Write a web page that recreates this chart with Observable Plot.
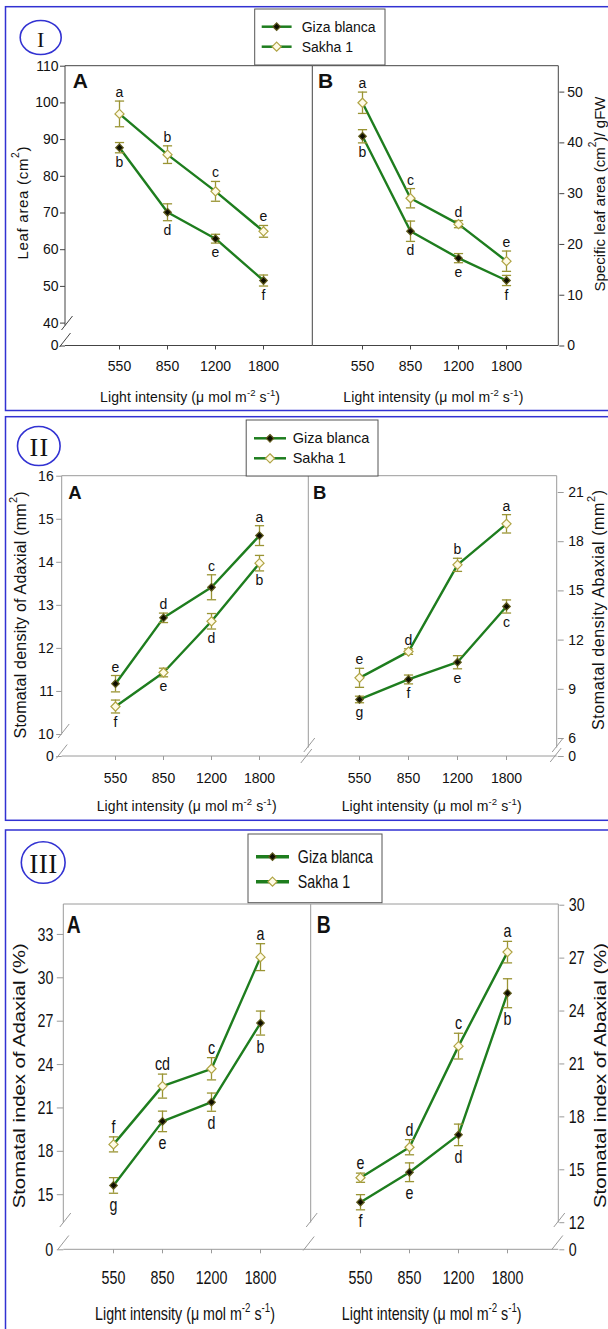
<!DOCTYPE html>
<html>
<head>
<meta charset="utf-8">
<script src="https://cdn.jsdelivr.net/npm/d3@7"></script>
<script src="https://cdn.jsdelivr.net/npm/@observablehq/plot@0.6"></script>
<style>
  html, body { margin: 0; padding: 0; background: #fff; }
  #wrap { position: relative; width: 608px; height: 1329px; overflow: hidden; background: #fff; }
  #wrap > svg { position: absolute; left: 0; top: 0; }
</style>
</head>
<body>
<div id="wrap"></div>
<script>
// ---------------- data ----------------
const lightLevels = ["550", "850", "1200", "1800"];
const cultivars = ["Giza blanca", "Sakha 1"];

// I-A  Leaf area (cm2)
const leafAreaGiza = [87.8, 70.2, 63.0, 51.6];
const leafAreaGizaSE = [1.4, 2.3, 1.2, 1.5];
const leafAreaGizaLetters = ["b", "d", "e", "f"];
const leafAreaSakha = [97.0, 85.9, 75.9, 65.0];
const leafAreaSakhaSE = [3.5, 2.4, 2.7, 1.6];
const leafAreaSakhaLetters = ["a", "b", "c", "e"];
const leafAreaTicks = [0, 40, 50, 60, 70, 80, 90, 100, 110];

// I-B  Specific leaf area (cm2)/gFW
const slaGiza = [41.3, 22.6, 17.3, 12.9];
const slaGizaSE = [1.3, 2.0, 0.9, 1.0];
const slaGizaLetters = ["b", "d", "e", "f"];
const slaSakha = [47.9, 29.1, 24.0, 16.7];
const slaSakhaSE = [2.1, 1.9, 0.7, 2.0];
const slaSakhaLetters = ["a", "c", "d", "e"];
const slaTicks = [0, 10, 20, 30, 40, 50];

// II-A  Stomatal density of adaxial (mm2)
const sdAdGiza = [11.18, 12.71, 13.42, 14.62];
const sdAdGizaSE = [0.19, 0.11, 0.29, 0.23];
const sdAdGizaLetters = ["e", "d", "c", "a"];
const sdAdSakha = [10.65, 11.44, 12.63, 13.98];
const sdAdSakhaSE = [0.15, 0.10, 0.18, 0.18];
const sdAdSakhaLetters = ["f", "e", "d", "b"];
const sdAdTicks = [0, 10, 11, 12, 13, 14, 15, 16];

// II-B  Stomatal density abaxial (mm2)
const sdAbGiza = [8.38, 9.60, 10.65, 14.05];
const sdAbGizaSE = [0.20, 0.27, 0.40, 0.40];
const sdAbGizaLetters = ["g", "f", "e", "c"];
const sdAbSakha = [9.70, 11.30, 16.59, 19.09];
const sdAbSakhaSE = [0.58, 0.17, 0.40, 0.56];
const sdAbSakhaLetters = ["e", "d", "b", "a"];
const sdAbTicks = [0, 6, 9, 12, 15, 18, 21];

// III-A  Stomatal index of adaxial (%)
const siAdGiza = [15.64, 20.07, 21.40, 26.87];
const siAdGizaSE = [0.54, 0.71, 0.63, 0.83];
const siAdGizaLetters = ["g", "e", "d", "b"];
const siAdSakha = [18.48, 22.51, 23.71, 31.43];
const siAdSakhaSE = [0.52, 0.83, 0.77, 0.93];
const siAdSakhaLetters = ["f", "cd", "c", "a"];
const siAdTicks = [0, 15, 18, 21, 24, 27, 30, 33];

// III-B  Stomatal index of abaxial (%)
const siAbGiza = [13.16, 14.86, 16.98, 25.01];
const siAbGizaSE = [0.43, 0.53, 0.61, 0.82];
const siAbGizaLetters = ["f", "e", "d", "b"];
const siAbSakha = [14.55, 16.28, 22.01, 27.34];
const siAbSakhaSE = [0.26, 0.43, 0.73, 0.61];
const siAbSakhaLetters = ["e", "d", "c", "a"];
const siAbTicks = [0, 12, 15, 18, 21, 24, 27, 30];

const panelNumerals = ["I", "II", "III"];
const subplotTags = ["A", "B"];
const xTitle = "Light intensity (\u03bc mol m^-2 s^-1)";
const yTitles = [
  ["Leaf area (cm^2)", "Specific leaf area (cm^2)/ gFW"],
  ["Stomatal density of Adaxial (mm^2)", "Stomatal density Abaxial (mm^2)"],
  ["Stomatal index of Adaxial (%)", "Stomatal index of Abaxial (%)"]
];

// ---------------- layout & style ----------------
const W = 608, H = 1329;
const SANS = "'Liberation Sans', Arial, Helvetica, sans-serif";
const SERIF = "'Liberation Serif', 'Times New Roman', serif";
const GREEN = "#1e7d1e", ERR = "#9a9433";
const GIZA_FILL = "#0e0e00", GIZA_STROKE = "#5f5a1c";
const SAKHA_FILL = "#fffbe6", SAKHA_STROKE = "#b0a444";
const BLUE = "#3232d2";

const panels = [
  {
    border: [6.7, 410.5], frame: "#444", font: 14, sx: 1, xTickPad: 11.5,
    badge: {cx: 40.7, cy: 37.5, rx: 20.5, ry: 17, size: 22, spacing: 0},
    legend: {x0: 254.7, x1: 385, y0: 9, y1: 65, rows: [26.7, 46.7], lx0: 261.7, lx1: 291.6, tx: 301.7, lw: 2.5, size: 14},
    xT: {y: 402, len: 180, size: 14, cx: [190, 433.3]},
    yT: [{x: 21.7, y: 203, len: 113, size: 15}, {x: 598.5, y: 194, len: 195, size: 15}],
    tag: [{x: 72.7, y: 88.3}, {x: 318, y: 88}], tagSize: 21, tagSx: 1,
    subs: [
      {L: 65, R: 312.3, T: 65.7, B: 345.5, anchor: "left", yDomain: [0, 40, 110], yRange: [345.5, 322.6, 65.7],
       pad: 1.05, align: 0.52, tickSize: 5, tickPadding: 2, brk: [323, 340], div: null,
       ticks: leafAreaTicks, giza: [leafAreaGiza, leafAreaGizaSE, leafAreaGizaLetters], sakha: [leafAreaSakha, leafAreaSakhaSE, leafAreaSakhaLetters]},
      {L: 312.3, R: 558.3, T: 65.7, B: 345.5, anchor: "right", yDomain: [0, 55.1], yRange: [345.5, 65.7],
       pad: 1.02, align: 0.49, tickSize: 5, tickPadding: 3.5, brk: null,
       ticks: slaTicks, giza: [slaGiza, slaGizaSE, slaGizaLetters], sakha: [slaSakha, slaSakhaSE, slaSakhaLetters]}
    ]
  },
  {
    border: [416.7, 820.3], frame: "#9a9a9a", font: 14, sx: 1, xTickPad: 13,
    badge: {cx: 38.8, cy: 446, rx: 21.3, ry: 19.5, size: 26, spacing: 1.5},
    legend: {x0: 246.2, x1: 378, y0: 420, y1: 476, rows: [438.3, 458.3], lx0: 254, lx1: 286, tx: 292.7, lw: 2.5, size: 14.5},
    xT: {y: 811, len: 180, size: 14, cx: [186.7, 431.7]},
    yT: [{x: 20, y: 615, len: 247, size: 16}, {x: 598, y: 610, len: 240, size: 16}],
    tag: [{x: 68.3, y: 499.3}, {x: 313, y: 499}], tagSize: 18.5, tagSx: 1,
    subs: [
      {L: 61.7, R: 308.3, T: 475.7, B: 756, anchor: "left", yDomain: [0, 10, 16], yRange: [756, 734, 475.7],
       pad: 1.03, align: 0.52, tickSize: 5.5, tickPadding: 3, brk: [731, 751.5], div: [745, 756],
       ticks: sdAdTicks, giza: [sdAdGiza, sdAdGizaSE, sdAdGizaLetters], sakha: [sdAdSakha, sdAdSakhaSE, sdAdSakhaLetters]},
      {L: 308.3, R: 556.7, T: 475.7, B: 756, anchor: "right", yDomain: [0, 6, 22], yRange: [756, 738, 475.6],
       pad: 1.03, align: 0.5, tickSize: 6, tickPadding: 5, brk: [745, 755],
       ticks: sdAbTicks, giza: [sdAbGiza, sdAbGizaSE, sdAbGizaLetters], sakha: [sdAbSakha, sdAbSakhaSE, sdAbSakhaLetters]}
    ]
  },
  {
    border: [830, 1340], frame: "#9a9a9a", font: 19, sx: 0.75, xTickPad: 16.7,
    badge: {cx: 43.2, cy: 862.5, rx: 21.9, ry: 20.8, size: 27, spacing: 0.5},
    legend: {x0: 248, x1: 382, y0: 834, y1: 902.7, rows: [856.7, 881.7], lx0: 256, lx1: 289, tx: 297.8, lw: 3.5, size: 19},
    xT: {y: 1320, len: null, size: 19, sx: 0.75, cx: [185, 431.7]},
    yT: [{x: 19, y: 1075.8, len: 265, size: 17, adjust: "spacingAndGlyphs"}, {x: 600, y: 1075.5, len: 265, size: 17, adjust: "spacingAndGlyphs"}],
    tag: [{x: 66.7, y: 933.3}, {x: 316.7, y: 933.3}], tagSize: 23, tagSx: 0.84,
    subs: [
      {L: 63.3, R: 310.7, T: 904, B: 1249.3, anchor: "left", yDomain: [0, 13.7, 35.07], yRange: [1249.3, 1213, 904],
       pad: 0.99, align: 0.5, tickSize: 6.5, tickPadding: 4, brk: [1220, 1242.5], div: [1220, 1243.5],
       ticks: siAdTicks, giza: [siAdGiza, siAdGizaSE, siAdGizaLetters], sakha: [siAdSakha, siAdSakhaSE, siAdSakhaLetters]},
      {L: 310.7, R: 558.3, T: 904, B: 1249.3, anchor: "right", yDomain: [0, 12, 30.04], yRange: [1249.3, 1222.2, 904],
       pad: 1.0, align: 0.49, tickSize: 5, tickPadding: 5, brk: [1220, 1242.5],
       ticks: siAbTicks, giza: [siAbGiza, siAbGizaSE, siAbGizaLetters], sakha: [siAbSakha, siAbSakhaSE, siAbSakhaLetters]}
    ]
  }
];

const wrap = document.getElementById("wrap");

function rows(triple, cultivar) {
  const [vals, se, letters] = triple;
  return lightLevels.map((light, i) => ({light, value: vals[i], se: se[i], letter: letters[i], cultivar}));
}

const capSymbol = {draw(ctx, size) { const h = Math.sqrt(size / Math.PI); ctx.moveTo(-h, 0); ctx.lineTo(h, 0); }};

function drawSub(p, s) {
  const giza = rows(s.giza, cultivars[0]);
  const sakha = rows(s.sakha, cultivars[1]);
  const all = giza.concat(sakha);
  const upper = d3.mean(giza, d => d.value) > d3.mean(sakha, d => d.value) ? giza : sakha;
  const lower = upper === giza ? sakha : giza;
  const svg = Plot.plot({
    width: W, height: H,
    marginLeft: s.L, marginRight: W - s.R, marginTop: s.T, marginBottom: H - s.B,
    x: {type: "point", domain: lightLevels, padding: s.pad, align: s.align},
    y: {type: "linear", domain: s.yDomain, range: s.yRange},
    style: {background: "transparent", fontFamily: SANS, fontSize: `${p.font}px`, color: "#111", overflow: "visible", maxWidth: "none"},
    marks: [
      Plot.axisY({ticks: s.ticks, anchor: s.anchor, tickSize: s.tickSize, tickPadding: s.tickPadding, stroke: p.frame, fill: "#111", label: null, tickFormat: d => `${d}`}),
      Plot.axisX({anchor: "bottom", tickSize: 4, tickPadding: p.xTickPad, stroke: p.frame, fill: "#111", label: null}),
      Plot.line(all, {x: "light", y: "value", z: "cultivar", stroke: GREEN, strokeWidth: 2.4}),
      Plot.ruleX(all, {x: "light", y1: d => d.value - d.se, y2: d => d.value + d.se, stroke: ERR, strokeWidth: 1.3}),
      Plot.dot(all, {x: "light", y: d => d.value + d.se, symbol: capSymbol, r: 4.6, stroke: ERR, strokeWidth: 1.3}),
      Plot.dot(all, {x: "light", y: d => d.value - d.se, symbol: capSymbol, r: 4.6, stroke: ERR, strokeWidth: 1.3}),
      Plot.dot(giza, {x: "light", y: "value", symbol: "diamond2", r: 3.4, fill: GIZA_FILL, stroke: GIZA_STROKE, strokeWidth: 1.2}),
      Plot.dot(sakha, {x: "light", y: "value", symbol: "diamond2", r: 4.1, fill: SAKHA_FILL, stroke: SAKHA_STROKE, strokeWidth: 1.2}),
      Plot.text(upper, {x: "light", y: d => d.value + d.se, text: "letter", lineAnchor: "bottom", dy: -4, fill: "#111"}),
      Plot.text(lower, {x: "light", y: d => d.value - d.se, text: "letter", lineAnchor: "top", dy: 4, fill: "#111"})
    ]
  });
  if (p.sx !== 1) {
    svg.querySelectorAll("text").forEach(t => {
      const tr = t.getAttribute("transform") || "";
      t.setAttribute("transform", `${tr} scale(${p.sx},1)`);
    });
  }
  wrap.appendChild(svg);
}

panels.forEach(p => p.subs.forEach(s => drawSub(p, s)));

// ---------------- overlay: frames, breaks, titles, legends ----------------
const ov = d3.select(wrap).append("svg").attr("width", W).attr("height", H);

function seg(x1, y1, x2, y2, stroke, w = 1) {
  ov.append("line").attr("x1", x1).attr("y1", y1).attr("x2", x2).attr("y2", y2)
    .attr("stroke", stroke).attr("stroke-width", w);
}
function slash(cx, cy, stroke) { seg(cx - 5.5, cy + 7, cx + 5.5, cy - 7, stroke, 1); }

function rich(str, o) {
  const parts = str.split(/\^(-?\d+)/);
  let tr = `translate(${o.x},${o.y})`;
  if (o.rotate) tr += ` rotate(${o.rotate})`;
  if (o.sx && o.sx !== 1) tr += ` scale(${o.sx},1)`;
  const t = ov.append("text").attr("transform", tr)
    .attr("text-anchor", o.anchor || "middle")
    .attr("font-family", o.family || SANS)
    .attr("font-size", o.size)
    .attr("font-weight", o.weight || "normal")
    .attr("fill", o.fill || "#111");
  if (o.baseline) t.attr("dominant-baseline", o.baseline);
  if (o.len) t.attr("textLength", o.len).attr("lengthAdjust", o.adjust || "spacing");
  if (o.spacing) t.attr("letter-spacing", o.spacing);
  const shift = o.size * 0.42;
  parts.forEach((s, i) => {
    if (!s) return;
    const ts = t.append("tspan").text(s);
    if (i % 2 === 1) ts.attr("font-size", o.size * 0.68).attr("dy", -shift);
    else if (i > 0) ts.attr("dy", shift);
  });
  return t;
}

panels.forEach((p, pi) => {
  // blue panel border
  ov.append("rect").attr("x", 5.5).attr("y", p.border[0]).attr("width", 640).attr("height", p.border[1] - p.border[0])
    .attr("fill", "none").attr("stroke", BLUE).attr("stroke-width", 1.5);

  const [A, B] = p.subs;
  const fc = p.frame;
  // frame edges
  seg(A.L, A.T, A.R, A.T, fc); seg(B.L, B.T, B.R, B.T, fc);
  seg(A.L, A.B, A.R, A.B, fc); seg(B.L, B.B, B.R, B.B, fc);
  seg(A.L, A.T, A.L, A.brk ? A.brk[0] + 2.5 : A.B, fc);
  seg(A.R, A.T, A.R, A.div ? A.div[0] + 2.5 : A.B, fc);
  seg(B.R, B.T, B.R, B.brk ? B.brk[0] + 2.5 : B.B, fc);
  // axis breaks
  if (A.brk) { slash(A.L + 2, A.brk[0], fc); slash(A.L, A.brk[1], fc); }
  if (A.div) { slash(A.R + 1, A.div[0], fc); slash(A.R - 2, A.div[1], fc); }
  if (B.brk) { slash(B.R + 1, B.brk[0], fc); slash(B.R - 1, B.brk[1], fc); }

  // subplot tags A / B
  p.tag.forEach((t, i) => rich(subplotTags[i], {x: t.x, y: t.y, size: p.tagSize, weight: "bold", anchor: "start", sx: p.tagSx}));

  // axis titles
  p.xT.cx.forEach(cx => rich(xTitle, {x: cx, y: p.xT.y, size: p.xT.size, len: p.xT.len, sx: p.xT.sx}));
  p.yT.forEach((t, i) => rich(yTitles[pi][i], {x: t.x, y: t.y, size: t.size, rotate: -90, baseline: "central", len: t.len, adjust: t.adjust}));

  // badge with roman numeral
  const bd = p.badge;
  ov.append("ellipse").attr("cx", bd.cx).attr("cy", bd.cy).attr("rx", bd.rx).attr("ry", bd.ry)
    .attr("fill", "#fff").attr("stroke", BLUE).attr("stroke-width", 1.6);
  rich(panelNumerals[pi], {x: bd.cx + bd.spacing / 2, y: bd.cy + 1, size: bd.size, family: SERIF, baseline: "central", spacing: bd.spacing});

  // legend
  const lg = p.legend;
  ov.append("rect").attr("x", lg.x0).attr("y", lg.y0).attr("width", lg.x1 - lg.x0).attr("height", lg.y1 - lg.y0)
    .attr("fill", "#fff").attr("stroke", "#555").attr("stroke-width", 1);
  cultivars.forEach((name, i) => {
    const y = lg.rows[i];
    seg(lg.lx0, y, lg.lx1, y, GREEN, lg.lw);
    const r = i ? 4.1 : 3.4;
    ov.append("path").attr("d", d3.symbol(d3.symbolDiamond2, Math.PI * r * r)())
      .attr("transform", `translate(${(lg.lx0 + lg.lx1) / 2},${y})`)
      .attr("fill", i ? SAKHA_FILL : GIZA_FILL).attr("stroke", i ? SAKHA_STROKE : GIZA_STROKE).attr("stroke-width", 1.2);
    rich(name, {x: lg.tx, y: y, size: lg.size, anchor: "start", baseline: "central", sx: p.sx});
  });
});
</script>
</body>
</html>
